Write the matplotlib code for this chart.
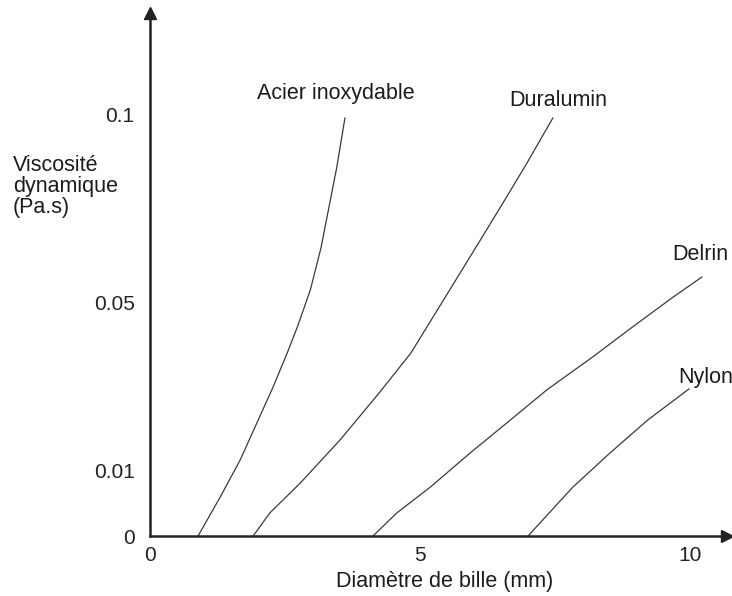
import numpy as np
import matplotlib
matplotlib.use("Agg")
import matplotlib.pyplot as plt

plt.rcParams['font.family'] = ['Liberation Sans', 'DejaVu Sans']

# ball diameter (mm) and dynamic viscosity (Pa.s)
acier_d = [0.89, 1.30, 1.67, 1.98, 2.28, 2.54, 2.73, 2.97, 3.17, 3.31, 3.46, 3.61]
acier_v = [0.0, 0.0059, 0.0124, 0.0213, 0.0299, 0.0380, 0.0443, 0.0535, 0.0649, 0.0752, 0.0862, 0.0992]

dural_d = [1.91, 2.22, 2.78, 3.52, 4.24, 4.83, 5.47, 6.12, 6.57, 6.98, 7.46]
dural_v = [0.0, 0.0035, 0.0080, 0.0172, 0.0284, 0.0380, 0.0516, 0.0668, 0.0774, 0.0872, 0.0992]

delrin_d = [4.13, 4.57, 5.19, 5.93, 6.61, 7.35, 8.20, 8.94, 9.69, 10.22]
delrin_v = [0.0, 0.0035, 0.0074, 0.0141, 0.0213, 0.0292, 0.0371, 0.0443, 0.0516, 0.0569]

nylon_d = [7.0, 7.83, 8.52, 9.22, 9.98]
nylon_v = [0.0, 0.0074, 0.0141, 0.0220, 0.0294]

x_ticks = [0, 5, 10]
y_ticks = [0, 0.01, 0.05, 0.1]
y_tick_labels = ['0', '0.01', '0.05', '0.1']

# the vertical axis is not linear: ticks are spaced by hand in the original
VB = [-1.0, 0.0, 0.01, 0.05, 0.1, 1.0]
PB = [-6600.0, 0.0, 66.0, 233.0, 421.0, 3805.0]

def fwd(v):
    return np.interp(v, VB, PB)

def inv(p):
    return np.interp(p, PB, VB)

W, H = 732, 596
fig = plt.figure(figsize=(W / 100, H / 100), dpi=100)
ax = fig.add_axes([150 / W, (H - 536) / H, (727 - 150) / W, (536 - 13) / H])
ax.set_yscale('function', functions=(fwd, inv))

LINE = '#3a3a3a'
for d, v in [(acier_d, acier_v), (dural_d, dural_v), (delrin_d, delrin_v), (nylon_d, nylon_v)]:
    ax.plot(d, v, color=LINE, lw=0.9)

ax.set_xlim(0, (727 - 150) / 54.0)
ax.set_ylim(0, inv(536 - 13))

for s in ['top', 'right']:
    ax.spines[s].set_visible(False)
for s in ['left', 'bottom']:
    ax.spines[s].set_linewidth(1.8)
    ax.spines[s].set_color('#222222')

# arrow heads
ax.plot(1, 0, '>', color='#222222', ms=8, transform=ax.get_yaxis_transform(), clip_on=False)
ax.plot(0, 1, '^', color='#222222', ms=8, transform=ax.get_xaxis_transform(), clip_on=False)

ax.set_xticks(x_ticks)
ax.set_xticklabels([str(t) for t in x_ticks])
ax.set_yticks(y_ticks)
ax.set_yticklabels(y_tick_labels)
ax.minorticks_off()
ax.tick_params(axis='x', length=0, pad=7, labelsize=15, colors='#222222')
ax.tick_params(axis='y', length=0, pad=11, labelsize=15, colors='#222222')

TXT = '#1c1c1c'
fs = 15.5
fig.text(336 / W, 1 - 93 / H, 'Acier inoxydable', ha='center', va='center', fontsize=fs, color=TXT)
fig.text(558 / W, 1 - 101 / H, 'Duralumin', ha='center', va='center', fontsize=fs, color=TXT)
fig.text(700 / W, 1 - 254 / H, 'Delrin', ha='center', va='center', fontsize=fs, color=TXT)
fig.text(706 / W, 1 - 377 / H, 'Nylon', ha='center', va='center', fontsize=fs, color=TXT)

fig.text(13 / W, 1 - 186 / H, 'Viscosité\ndynamique\n(Pa.s)', ha='left', va='center',
         fontsize=fs, color=TXT, linespacing=1.0)
fig.text(445 / W, 1 - 582 / H, 'Diamètre de bille (mm)', ha='center', va='center',
         fontsize=fs, color=TXT)

fig.savefig('out.png', dpi=100)
